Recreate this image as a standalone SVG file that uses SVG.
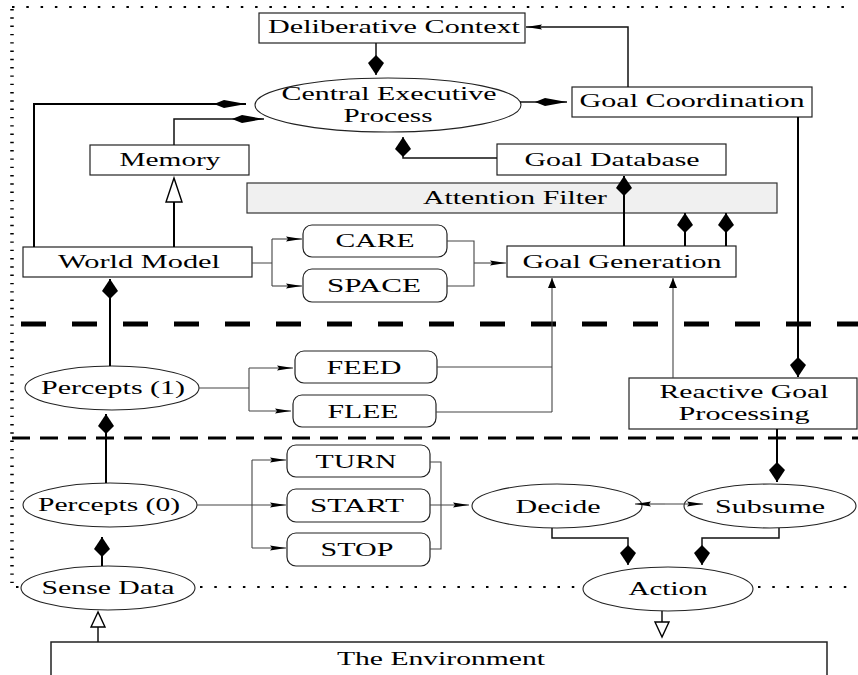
<svg xmlns="http://www.w3.org/2000/svg" width="858" height="675" viewBox="0 0 858 675">
<defs>
<style>
.box{fill:#fff;stroke:#222;stroke-width:1.2}
.filt{fill:#f0f0f0;stroke:#333;stroke-width:1.2}
.ell{fill:#fff;stroke:#222;stroke-width:1.1}
.t{font-family:"Liberation Serif","Times New Roman",serif;font-size:19px;fill:#000;text-anchor:middle}
.t2{font-size:18px}
.thick{fill:none;stroke:#000;stroke-width:2}
.med{fill:none;stroke:#111;stroke-width:1.5}
.thin{fill:none;stroke:#444;stroke-width:1.1}
.open{fill:#fff;stroke:#000;stroke-width:1.4}
</style>
<marker id="kh" markerUnits="userSpaceOnUse" markerWidth="34" markerHeight="10" refX="32" refY="5" orient="auto" overflow="visible"><path d="M32,5 L10,1 L0,5 L10,9 Z" fill="#000"/></marker>
<marker id="kv" markerUnits="userSpaceOnUse" markerWidth="22" markerHeight="18" refX="20" refY="8" orient="auto" overflow="visible"><path d="M20,8 L8,0 L0,8 L8,16 Z" fill="#000"/></marker>
<marker id="sh" markerUnits="userSpaceOnUse" markerWidth="18" markerHeight="6" refX="16" refY="2.5" orient="auto" overflow="visible"><path d="M16,2.5 L0,0 L2,2.5 L0,5 Z" fill="#000"/></marker>
<marker id="sv" markerUnits="userSpaceOnUse" markerWidth="11" markerHeight="9" refX="10" refY="4" orient="auto" overflow="visible"><path d="M10,4 L0,0 L0,8 Z" fill="#000"/></marker>
</defs>

<g id="borders">
<line x1="12" y1="7" x2="853" y2="7" stroke="#000" stroke-width="2" stroke-dasharray="2.5 11.8"/>
<line x1="12" y1="9" x2="12" y2="586" stroke="#000" stroke-width="3.5" stroke-dasharray="1.4 6.9"/>
<line x1="16" y1="587" x2="22" y2="587" stroke="#000" stroke-width="2" stroke-dasharray="2.5 11.8"/>
<line x1="200" y1="587" x2="583" y2="587" stroke="#000" stroke-width="2" stroke-dasharray="2.5 11.8"/>
<line x1="758" y1="587" x2="847" y2="587" stroke="#000" stroke-width="2" stroke-dasharray="2.5 11.8"/>
<line x1="21" y1="324" x2="858" y2="324" stroke="#000" stroke-width="5" stroke-dasharray="25 26"/>
<line x1="12" y1="438" x2="858" y2="438" stroke="#000" stroke-width="3" stroke-dasharray="18 10"/>
</g>

<g id="deliberative-context"><rect class="box" x="259" y="13" width="266" height="30"/><text class="t" transform="translate(394,33) scale(1.65,1)" textLength="152.7" lengthAdjust="spacingAndGlyphs">Deliberative Context</text></g>
<g id="central-executive"><ellipse class="ell" cx="388" cy="105" rx="133" ry="27"/><text class="t t2" transform="translate(389,100) scale(1.65,1)" textLength="130.3" lengthAdjust="spacingAndGlyphs">Central Executive</text><text class="t t2" transform="translate(388,122) scale(1.65,1)" textLength="53.9" lengthAdjust="spacingAndGlyphs">Process</text></g>
<g id="goal-coordination"><rect class="box" x="572" y="87" width="240" height="30"/><text class="t" transform="translate(692,107) scale(1.65,1)" textLength="136.4" lengthAdjust="spacingAndGlyphs">Goal Coordination</text></g>
<g id="memory"><rect class="box" x="90" y="145" width="159" height="30"/><text class="t" transform="translate(170,166) scale(1.65,1)" textLength="61.2" lengthAdjust="spacingAndGlyphs">Memory</text></g>
<g id="goal-database"><rect class="box" x="497" y="144" width="229" height="31"/><text class="t" transform="translate(612,166) scale(1.65,1)" textLength="106.1" lengthAdjust="spacingAndGlyphs">Goal Database</text></g>
<g id="attention-filter"><rect class="filt" x="247" y="183" width="530" height="30"/><text class="t" transform="translate(515,204) scale(1.65,1)" textLength="111.5" lengthAdjust="spacingAndGlyphs">Attention Filter</text></g>
<g id="world-model"><rect class="box" x="23" y="247" width="229" height="30"/><text class="t" transform="translate(139,268) scale(1.65,1)" textLength="98.2" lengthAdjust="spacingAndGlyphs">World Model</text></g>
<g id="care"><rect class="box" x="303" y="225" width="144" height="32" rx="9"/><text class="t" transform="translate(375,247) scale(1.65,1)" textLength="47.9" lengthAdjust="spacingAndGlyphs">CARE</text></g>
<g id="space"><rect class="box" x="303" y="269" width="144" height="33" rx="9"/><text class="t" transform="translate(374,292) scale(1.65,1)" textLength="57" lengthAdjust="spacingAndGlyphs">SPACE</text></g>
<g id="goal-generation"><rect class="box" x="507" y="246" width="229" height="31"/><text class="t" transform="translate(622,268) scale(1.65,1)" textLength="120.6" lengthAdjust="spacingAndGlyphs">Goal Generation</text></g>
<g id="percepts-1"><ellipse class="ell" cx="112" cy="388" rx="87" ry="22"/><text class="t" transform="translate(113,394) scale(1.65,1)" textLength="87.3" lengthAdjust="spacingAndGlyphs">Percepts (1)</text></g>
<g id="feed"><rect class="box" x="295" y="351" width="142" height="32" rx="9"/><text class="t" transform="translate(364,374) scale(1.65,1)" textLength="45.5" lengthAdjust="spacingAndGlyphs">FEED</text></g>
<g id="flee"><rect class="box" x="293" y="395" width="143" height="32" rx="9"/><text class="t" transform="translate(363,418) scale(1.65,1)" textLength="43" lengthAdjust="spacingAndGlyphs">FLEE</text></g>
<g id="reactive-goal-processing"><rect class="box" x="629" y="378" width="228" height="51"/><text class="t t2" transform="translate(744,398) scale(1.65,1)" textLength="102.4" lengthAdjust="spacingAndGlyphs">Reactive Goal</text><text class="t t2" transform="translate(744,420) scale(1.65,1)" textLength="79.4" lengthAdjust="spacingAndGlyphs">Processing</text></g>
<g id="percepts-0"><ellipse class="ell" cx="110" cy="505" rx="87" ry="22"/><text class="t" transform="translate(109,511) scale(1.65,1)" textLength="86.1" lengthAdjust="spacingAndGlyphs">Percepts (0)</text></g>
<g id="turn"><rect class="box" x="287" y="445" width="143" height="32" rx="9"/><text class="t" transform="translate(356,468) scale(1.65,1)" textLength="49.1" lengthAdjust="spacingAndGlyphs">TURN</text></g>
<g id="start"><rect class="box" x="287" y="489" width="143" height="33" rx="9"/><text class="t" transform="translate(357,512) scale(1.65,1)" textLength="57" lengthAdjust="spacingAndGlyphs">START</text></g>
<g id="stop"><rect class="box" x="287" y="533" width="143" height="33" rx="9"/><text class="t" transform="translate(357,556) scale(1.65,1)" textLength="44.2" lengthAdjust="spacingAndGlyphs">STOP</text></g>
<g id="decide"><ellipse class="ell" cx="557" cy="506" rx="85" ry="22"/><text class="t" transform="translate(558,513) scale(1.65,1)" textLength="51.5" lengthAdjust="spacingAndGlyphs">Decide</text></g>
<g id="subsume"><ellipse class="ell" cx="770" cy="506" rx="86" ry="22"/><text class="t" transform="translate(770,513) scale(1.65,1)" textLength="66.7" lengthAdjust="spacingAndGlyphs">Subsume</text></g>
<g id="sense-data"><ellipse class="ell" cx="108" cy="588" rx="87" ry="22"/><text class="t" transform="translate(108,594) scale(1.65,1)" textLength="80.6" lengthAdjust="spacingAndGlyphs">Sense Data</text></g>
<g id="action"><ellipse class="ell" cx="668" cy="589" rx="85" ry="22"/><text class="t" transform="translate(668,595) scale(1.65,1)" textLength="47.9" lengthAdjust="spacingAndGlyphs">Action</text></g>
<g id="environment"><path d="M51,676 V642 H827 V676" fill="#fff" stroke="#222" stroke-width="1.5"/><text class="t" transform="translate(441,665) scale(1.65,1)" textLength="126.1" lengthAdjust="spacingAndGlyphs">The Environment</text></g>

<g id="connectors">
<path class="med" d="M376,43 V75" marker-end="url(#kv)"/>
<path class="thick" d="M34,247 V104 H246" marker-end="url(#kh)" stroke="#333"/>
<path class="med" d="M174,145 V119 H264" marker-end="url(#kh)"/>
<path class="med" d="M520,102 H567" marker-end="url(#kh)" stroke="#333"/>
<path class="med" d="M628,87 V27 H526" marker-end="url(#sh)" stroke="#444"/>
<path class="med" d="M497,158 H403 V137" marker-end="url(#kv)" stroke="#333"/>
<path class="thick" d="M798,117 V377" marker-end="url(#kv)"/>
<path class="thick" d="M174,247 V202"/>
<polygon class="open" points="174,178 166,202 182,202"/>
<path class="thick" d="M624,246 V176" marker-end="url(#kv)"/>
<path class="thick" d="M685,246 V213" marker-end="url(#kv)"/>
<path class="thick" d="M726,246 V213" marker-end="url(#kv)"/>
<path class="thin" d="M252,263 H272 M272,239 V286"/>
<path class="thin" d="M272,239 H302" marker-end="url(#sh)"/>
<path class="thin" d="M272,286 H302" marker-end="url(#sh)"/>
<path class="thin" d="M447,241 H474 V286 H447"/>
<path class="thin" d="M474,263 H506" marker-end="url(#sh)"/>
<path class="thick" d="M110,366 V279" marker-end="url(#kv)"/>
<path class="thin" d="M199,388 H249 M249,368 V411"/>
<path class="thin" d="M249,368 H293" marker-end="url(#sh)"/>
<path class="thin" d="M249,411 H291" marker-end="url(#sh)"/>
<path class="thin" d="M437,367 H552 M436,412 H552"/>
<path class="thin" d="M552,412 V278" marker-end="url(#sv)" stroke="#222"/>
<path class="thin" d="M673,378 V278" marker-end="url(#sv)" stroke="#222"/>
<path class="thick" d="M777,429 V482" marker-end="url(#kv)"/>
<path class="thick" d="M106,483 V414" marker-end="url(#kv)"/>
<path class="thick" d="M102,566 V537" marker-end="url(#kv)"/>
<path class="thin" d="M197,505 H286" marker-end="url(#sh)" stroke="#222"/>
<path class="thin" d="M252,460 V548" stroke="#222"/>
<path class="thin" d="M252,460 H286" marker-end="url(#sh)" stroke="#222"/>
<path class="thin" d="M252,548 H286" marker-end="url(#sh)" stroke="#222"/>
<path class="thin" d="M430,462 H441 V549 H430" stroke="#222"/>
<path class="thin" d="M430,505 H469" marker-end="url(#sh)" stroke="#222"/>
<path class="thin" d="M665,504 H635" marker-end="url(#sh)" stroke="#222"/>
<path class="thin" d="M665,504 H703" marker-end="url(#sh)" stroke="#222"/>
<path class="med" d="M552,528 V538 H628 V565" marker-end="url(#kv)"/>
<path class="med" d="M779,528 V538 H702 V565" marker-end="url(#kv)"/>
<path class="med" d="M98,642 V627"/>
<polygon class="open" points="98,612 91,627 105,627"/>
<path class="med" d="M662,611 V622"/>
<polygon class="open" points="662,637 655,622 669,622"/>
</g>
</svg>
